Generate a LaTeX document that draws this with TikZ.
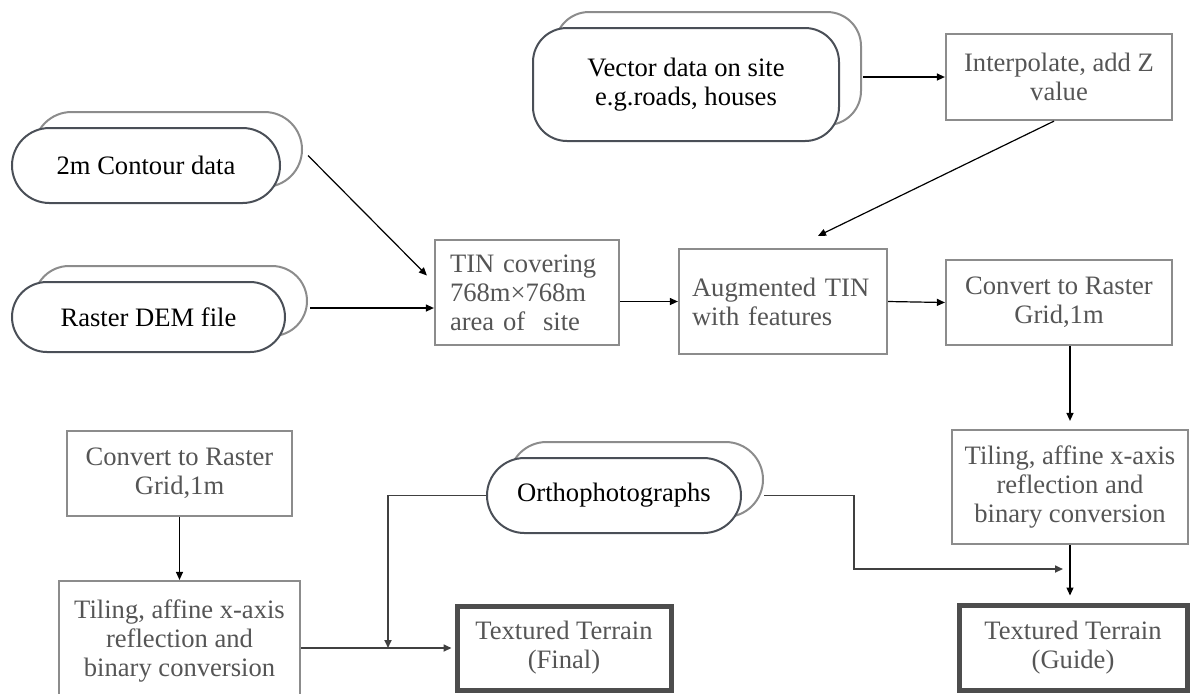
\documentclass[tikz,border=0pt]{standalone}
\usepackage{fontspec}
\setmainfont{Liberation Serif}
\usetikzlibrary{shapes.misc,shadows,arrows.meta}
\definecolor{boxgray}{HTML}{8C8C8C}
\definecolor{txtgray}{HTML}{555555}
\definecolor{pillgray}{HTML}{4A4F57}
\definecolor{termgray}{HTML}{4D4D4D}
\definecolor{linkgray}{HTML}{404040}
\tikzset{
  procbox/.style={draw=boxgray, line width=1.1pt, text=txtgray, inner sep=0pt, align=center},
  termbox/.style={draw=termgray, line width=2.5pt, text=txtgray, inner sep=0pt, align=center,
    minimum width=107pt, minimum height=42pt},
  pill/.style={rounded rectangle, draw=pillgray, line width=1pt, fill=white, inner sep=0pt,
    copy shadow={shadow xshift=11pt, shadow yshift=8pt, draw=boxgray, fill=white, line width=1pt}},
  arr/.style={-{Triangle[length=4pt,width=3.5pt]}, line width=0.6pt},
  photolink/.style={draw=linkgray, line width=0.85pt},
}
\begin{document}
\begin{tikzpicture}[x=0.5pt, y=-0.5pt, font=\fontsize{13.3pt}{14.5pt}\selectfont]
  \useasboundingbox (0,0) rectangle (1190,693);
  % input data
  \node[pill, minimum width=134pt, minimum height=37.5pt] (contour) at (146,165.5) {2m Contour data};
  \node[pill, minimum width=136.5pt, minimum height=35pt] (raster) at (148.5,317) {Raster DEM file};
  \node[pill, rectangle, rounded corners=17pt, minimum width=153pt, minimum height=56.5pt, align=center]
    (vector) at (686,84.5) {Vector data on site\\e.g.roads, houses};
  \node[pill, minimum width=127pt, minimum height=37.5pt] (ortho) at (614,495.5) {Orthophotographs};
  % processing steps
  \node[procbox, minimum width=113pt, minimum height=43pt] (interp) at (1059,77) {Interpolate, add Z\\value};
  \node[procbox, minimum width=92pt, minimum height=52.5pt, align=left, text width=77pt, inner xsep=7.5pt]
    (tin) at (527,292.5) {TIN covering\\768m×768m\\area of~ site};
  \node[procbox, minimum width=104pt, minimum height=52.5pt, align=left, text width=91pt, inner xsep=6.5pt]
    (aug) at (783,301.5) {Augmented TIN\\with features};
  \node[procbox, minimum width=113pt, minimum height=42.5pt] (convR) at (1059,302.5) {Convert to Raster\\Grid,1m};
  \node[procbox, minimum width=118pt, minimum height=57pt] (tileR) at (1070,487)
    {Tiling, affine x-axis\\reflection and\\binary conversion};
  \node[procbox, minimum width=112.5pt, minimum height=42.5pt] (convL) at (179.5,473.5) {Convert to Raster\\Grid,1m};
  \node[procbox, minimum width=120.5pt, minimum height=59.5pt] (tileL) at (179.5,640.5)
    {Tiling, affine x-axis\\reflection and\\binary conversion};
  % results
  \node[termbox, minimum width=114pt, minimum height=42.5pt] (guide) at (1073,647.5) {Textured Terrain\\(Guide)};
  \node[termbox] (final) at (564,648) {Textured Terrain\\(Final)};
  % connector ends
  \coordinate (conR) at ([shift={(27,-10)}]contour.east);
  \coordinate (rasR) at ([shift={(24,-9)}]raster.east);
  \coordinate (vecR) at ([xshift=11.5pt]vector.east);
  \coordinate (orR) at ([xshift=11pt]ortho.east);
  \coordinate (orTurn) at (854,569);
  \coordinate (guideIn) at (1063,569);
  \coordinate (finalIn) at (388,648);
  \begin{scope}[arr]
    \draw (conR) -- ([shift={(-7,-17)}]tin.west);
    \draw (rasR) -- (rasR -| tin.west);
    \draw (vecR |- interp.west) -- (interp.west);
    \draw ([xshift=-2.5pt]interp.south) -- ([shift={(35,-12)}]aug.north);
    \draw (tin.east |- aug.west) -- (aug.west);
    \draw (aug.east) -- (convR.west);
    \draw[shorten >=4pt] (tileR.north |- convR.south) -- (tileR.north);
    \draw[shorten >=3.5pt] (tileR.south) -- (tileR.south |- guide.north);
    \draw (convL.south) -- (tileL.north);
    \draw[photolink, shorten >=1.5pt] (tileL.east |- final.west) -- (final.west);
    \draw[photolink] (ortho.west) -| (finalIn);
    \draw[photolink] (orR) -| (orTurn) -- (guideIn);
  \end{scope}
\end{tikzpicture}
\end{document}
